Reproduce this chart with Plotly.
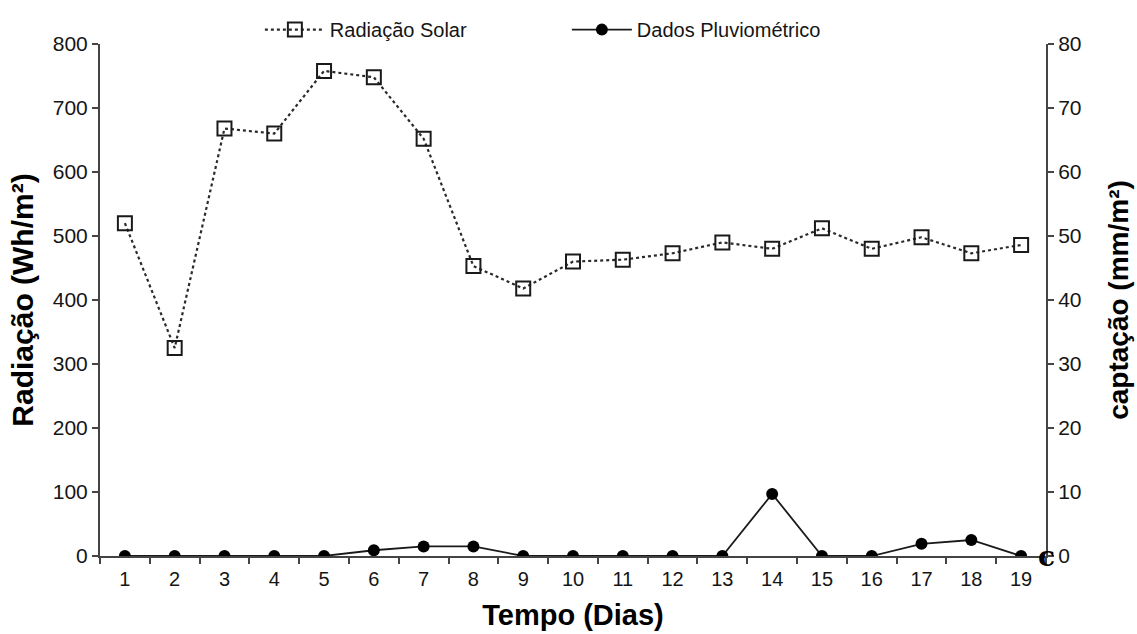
import plotly.graph_objects as go

# Daily series
dias = [str(d) for d in range(1, 20)]
radiacao = [520, 325, 668, 660, 758, 748, 652, 453, 418, 460,
            463, 473, 490, 480, 512, 480, 498, 473, 486]
chuva = [0, 0, 0, 0, 0, 0.9, 1.5, 1.5, 0, 0,
         0, 0, 0, 9.7, 0, 0, 1.9, 2.5, 0]

FONT = "Liberation Sans, Arial, sans-serif"
INK = "#151515"
AXIS = "#444444"

fig = go.Figure()

fig.add_trace(go.Scatter(
    x=dias, y=radiacao, name="Radiação Solar", mode="lines+markers",
    line=dict(color="#2a2a2a", width=2.2, dash="dot"),
    marker=dict(symbol="square-open", size=14, color="#1a1a1a",
                line=dict(width=2, color="#1a1a1a")),
    yaxis="y",
))

fig.add_trace(go.Scatter(
    x=dias, y=chuva, name="Dados Pluviométrico", mode="lines+markers",
    line=dict(color="#1a1a1a", width=1.8),
    marker=dict(symbol="circle", size=12, color="#000000"),
    yaxis="y2",
))

fig.update_layout(
    width=1137, height=634,
    margin=dict(l=100, r=91, t=44, b=78, autoexpand=False),
    paper_bgcolor="white", plot_bgcolor="white",
    font=dict(family=FONT, color=INK, size=20),
    showlegend=True,
    legend=dict(orientation="h", x=0.169, xanchor="left", y=0.99, yanchor="bottom",
                font=dict(size=20, color=INK), bgcolor="rgba(0,0,0,0)",
                itemwidth=60, entrywidth=232, tracegroupgap=0),
    xaxis=dict(
        type="category", range=[-0.5, 18.5], tickson="boundaries",
        ticks="outside", ticklen=6, tickwidth=2, tickcolor=AXIS,
        showline=True, linecolor=AXIS, linewidth=2, showgrid=False, zeroline=False,
        tickfont=dict(size=20, color=INK), ticklabelstandoff=4, automargin=False,
        title=dict(text="<b>Tempo (Dias)</b>", font=dict(size=29, color="#000000"), standoff=16),
    ),
    yaxis=dict(
        range=[0, 800], tickvals=[0, 100, 200, 300, 400, 500, 600, 700, 800],
        ticks="outside", ticklen=6, tickwidth=2, tickcolor=AXIS,
        showline=True, linecolor=AXIS, linewidth=2, showgrid=False, zeroline=False,
        tickfont=dict(size=21, color=INK), automargin=False,
        title=dict(text="<b>Radiação (Wh/m²)</b>", font=dict(size=30, color="#000000"), standoff=10),
    ),
    yaxis2=dict(
        range=[0, 80], tickvals=[0, 10, 20, 30, 40, 50, 60, 70, 80],
        overlaying="y", side="right", anchor="x",
        ticks="outside", ticklen=6, tickwidth=2, tickcolor=AXIS,
        showline=True, linecolor=AXIS, linewidth=2, showgrid=False, zeroline=False,
        tickfont=dict(size=21, color=INK), automargin=False,
        title=dict(text="<b>captação (mm/m²)</b>", font=dict(size=28, color="#000000"), standoff=28),
    ),
)

# Small serif glyph sitting on the right axis at zero
fig.add_annotation(x=1.0, y=0, xref="paper", yref="paper", text="<b>c</b>",
                   showarrow=False, xanchor="center", yanchor="middle",
                   font=dict(family="DejaVu Serif", size=28, color="#000000"))

fig.write_html("out.html")
